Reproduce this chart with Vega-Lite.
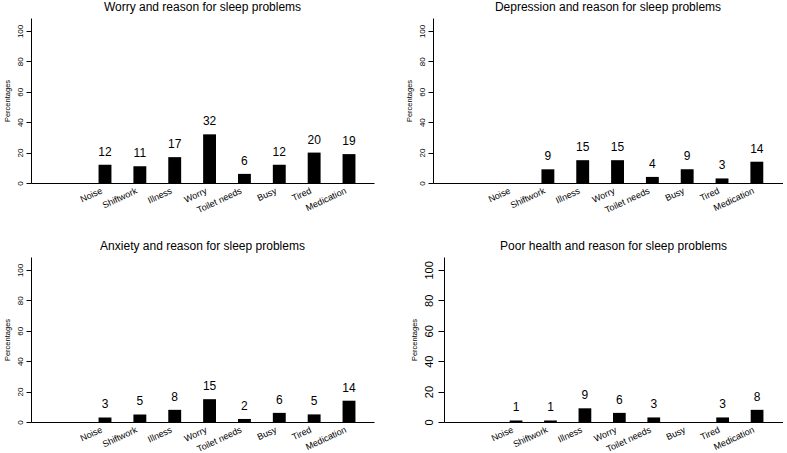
{
  "$schema": "https://vega.github.io/schema/vega-lite/v6.json",
  "padding": {"left": 3, "top": 1, "right": 0, "bottom": 0},
  "background": "white",
  "config": {
    "view": {"stroke": null},
    "font": "Liberation Sans",
    "axis": {"domainColor": "#000", "tickColor": "#000", "labelColor": "#000", "titleColor": "#000", "grid": false, "labelFont": "Liberation Sans", "titleFont": "Liberation Sans"},
    "axisX": {"title": null, "labelAngle": -25, "labelAlign": "right", "labelBaseline": "top", "ticks": false, "labelPadding": 3, "labelOffset": -5, "labelFontSize": 9, "labelOverlap": false},
    "title": {"font": "Liberation Sans", "fontSize": 12, "fontWeight": "normal", "color": "#000", "frame": "group", "anchor": "middle", "offset": 4}
  },
  "data": {"values": [
    {"condition": "Worry", "reason": "Noise", "pct": 12},
    {"condition": "Worry", "reason": "Shiftwork", "pct": 11},
    {"condition": "Worry", "reason": "Illness", "pct": 17},
    {"condition": "Worry", "reason": "Worry", "pct": 32},
    {"condition": "Worry", "reason": "Toilet needs", "pct": 6},
    {"condition": "Worry", "reason": "Busy", "pct": 12},
    {"condition": "Worry", "reason": "Tired", "pct": 20},
    {"condition": "Worry", "reason": "Medication", "pct": 19},
    {"condition": "Depression", "reason": "Shiftwork", "pct": 9},
    {"condition": "Depression", "reason": "Illness", "pct": 15},
    {"condition": "Depression", "reason": "Worry", "pct": 15},
    {"condition": "Depression", "reason": "Toilet needs", "pct": 4},
    {"condition": "Depression", "reason": "Busy", "pct": 9},
    {"condition": "Depression", "reason": "Tired", "pct": 3},
    {"condition": "Depression", "reason": "Medication", "pct": 14},
    {"condition": "Anxiety", "reason": "Noise", "pct": 3},
    {"condition": "Anxiety", "reason": "Shiftwork", "pct": 5},
    {"condition": "Anxiety", "reason": "Illness", "pct": 8},
    {"condition": "Anxiety", "reason": "Worry", "pct": 15},
    {"condition": "Anxiety", "reason": "Toilet needs", "pct": 2},
    {"condition": "Anxiety", "reason": "Busy", "pct": 6},
    {"condition": "Anxiety", "reason": "Tired", "pct": 5},
    {"condition": "Anxiety", "reason": "Medication", "pct": 14},
    {"condition": "Poor health", "reason": "Noise", "pct": 1},
    {"condition": "Poor health", "reason": "Shiftwork", "pct": 1},
    {"condition": "Poor health", "reason": "Illness", "pct": 9},
    {"condition": "Poor health", "reason": "Worry", "pct": 6},
    {"condition": "Poor health", "reason": "Toilet needs", "pct": 3},
    {"condition": "Poor health", "reason": "Tired", "pct": 3},
    {"condition": "Poor health", "reason": "Medication", "pct": 8}
  ]},
  "spacing": 25,
  "vconcat": [
    {
      "spacing": 31,
      "hconcat": [
        {
          "title": "Worry and reason for sleep problems",
          "width": 343, "height": 165,
          "transform": [{"filter": "datum.condition === 'Worry'"}],
          "encoding": {
            "x": {"field": "reason", "type": "nominal", "scale": {"domain": ["", "Noise", "Shiftwork", "Illness", "Worry", "Toilet needs", "Busy", "Tired", "Medication"], "paddingInner": 0.63, "paddingOuter": 0.735, "align": 0.638}},
            "y": {"field": "pct", "type": "quantitative", "scale": {"domain": [0, 108.5], "nice": false},
              "axis": {"title": "Percentages", "values": [0, 20, 40, 60, 80, 100], "labelAngle": -90, "labelAlign": "center", "labelBaseline": "bottom", "tickSize": 5, "labelPadding": 2, "labelFontSize": 8, "titleFontSize": 7.5, "titleFontWeight": "normal", "titlePadding": 5}}
          },
          "layer": [
            {"mark": {"type": "bar", "color": "#000"}},
            {"mark": {"type": "text", "baseline": "bottom", "dy": -6, "fontSize": 12, "color": "#000"}, "encoding": {"text": {"field": "pct"}}}
          ]
        },
        {
          "title": "Depression and reason for sleep problems",
          "width": 350, "height": 165,
          "transform": [{"filter": "datum.condition === 'Depression'"}],
          "encoding": {
            "x": {"field": "reason", "type": "nominal", "scale": {"domain": ["", "Noise", "Shiftwork", "Illness", "Worry", "Toilet needs", "Busy", "Tired", "Medication"], "paddingInner": 0.63, "paddingOuter": 0.84, "align": 0.663}},
            "y": {"field": "pct", "type": "quantitative", "scale": {"domain": [0, 108.5], "nice": false},
              "axis": {"title": "Percentages", "values": [0, 20, 40, 60, 80, 100], "labelAngle": -90, "labelAlign": "center", "labelBaseline": "bottom", "tickSize": 5, "labelPadding": 2, "labelFontSize": 8, "titleFontSize": 7.5, "titleFontWeight": "normal", "titlePadding": 5}}
          },
          "layer": [
            {"mark": {"type": "bar", "color": "#000"}},
            {"mark": {"type": "text", "baseline": "bottom", "dy": -6, "fontSize": 12, "color": "#000"}, "encoding": {"text": {"field": "pct"}}}
          ]
        }
      ]
    },
    {
      "spacing": 36,
      "hconcat": [
        {
          "title": "Anxiety and reason for sleep problems",
          "width": 343, "height": 165,
          "transform": [{"filter": "datum.condition === 'Anxiety'"}],
          "encoding": {
            "x": {"field": "reason", "type": "nominal", "scale": {"domain": ["", "Noise", "Shiftwork", "Illness", "Worry", "Toilet needs", "Busy", "Tired", "Medication"], "paddingInner": 0.63, "paddingOuter": 0.735, "align": 0.638}},
            "y": {"field": "pct", "type": "quantitative", "scale": {"domain": [0, 108.5], "nice": false},
              "axis": {"title": "Percentages", "values": [0, 20, 40, 60, 80, 100], "labelAngle": -90, "labelAlign": "center", "labelBaseline": "bottom", "tickSize": 5, "labelPadding": 2, "labelFontSize": 8, "titleFontSize": 7.5, "titleFontWeight": "normal", "titlePadding": 5}}
          },
          "layer": [
            {"mark": {"type": "bar", "color": "#000"}},
            {"mark": {"type": "text", "baseline": "bottom", "dy": -6, "fontSize": 12, "color": "#000"}, "encoding": {"text": {"field": "pct"}}}
          ]
        },
        {
          "title": "Poor health and reason for sleep problems",
          "width": 339, "height": 165,
          "transform": [{"filter": "datum.condition === 'Poor health'"}],
          "encoding": {
            "x": {"field": "reason", "type": "nominal", "scale": {"domain": ["", "Noise", "Shiftwork", "Illness", "Worry", "Toilet needs", "Busy", "Tired", "Medication"], "paddingInner": 0.63, "paddingOuter": 0.738, "align": 0.615}},
            "y": {"field": "pct", "type": "quantitative", "scale": {"domain": [0, 108.5], "nice": false},
              "axis": {"title": "Percentages", "values": [0, 20, 40, 60, 80, 100], "labelAngle": -90, "labelAlign": "center", "labelBaseline": "bottom", "tickSize": 6, "labelPadding": 4, "labelFontSize": 11, "titleFontSize": 7.5, "titleFontWeight": "normal", "titlePadding": 5}}
          },
          "layer": [
            {"mark": {"type": "bar", "color": "#000"}},
            {"mark": {"type": "text", "baseline": "bottom", "dy": -6, "fontSize": 12, "color": "#000"}, "encoding": {"text": {"field": "pct"}}}
          ]
        }
      ]
    }
  ]
}
